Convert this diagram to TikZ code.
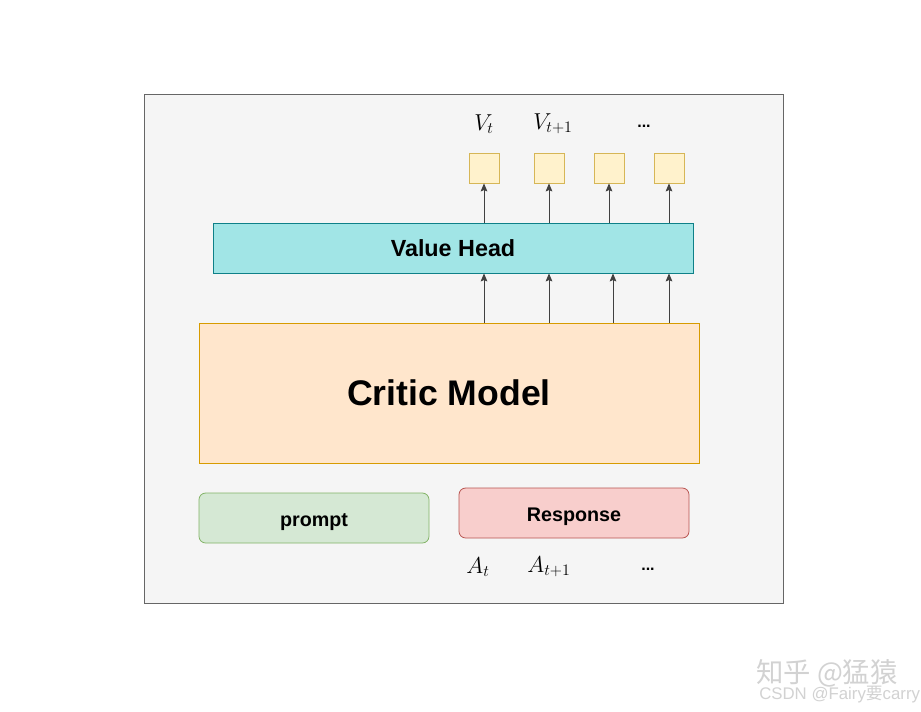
\documentclass[tikz,border=0pt]{standalone}
\usepackage{fontspec}
\setsansfont{Liberation Sans}
\newfontfamily\cjkfont{Noto Sans CJK SC}
\usetikzlibrary{arrows.meta}
\definecolor{bgfill}{HTML}{F5F5F5}
\definecolor{bgdraw}{HTML}{666666}
\definecolor{vhfill}{HTML}{A1E5E6}
\definecolor{vhdraw}{HTML}{0E8088}
\definecolor{cmfill}{HTML}{FFE6CC}
\definecolor{cmdraw}{HTML}{D79B00}
\definecolor{sqfill}{HTML}{FFF2CC}
\definecolor{sqdraw}{HTML}{D6B656}
\definecolor{prfill}{HTML}{D5E8D4}
\definecolor{prdraw}{HTML}{82B366}
\definecolor{rsfill}{HTML}{F8CECC}
\definecolor{rsdraw}{HTML}{B85450}
\definecolor{wmcol}{HTML}{D2D2D2}
\begin{document}
\begin{tikzpicture}[x=0.75pt,y=-0.75pt,
  arr/.style={-{Stealth[length=6pt,width=5pt,inset=1pt]},draw=black!75,line width=0.7pt},
  sq/.style={draw=sqdraw,fill=sqfill,line width=0.6pt,minimum width=22.5pt,minimum height=22.5pt,inner sep=0pt},
  lbl/.style={font=\fontsize{16.5}{19}\selectfont,inner sep=0pt},
  dots/.style={font=\sffamily\bfseries\fontsize{12}{14}\selectfont,inner sep=0pt},
  inbox/.style={rounded corners=5pt,line width=0.6pt,minimum width=172.5pt,minimum height=37.5pt,inner sep=0pt,
    text height=12pt,text depth=0pt,font=\sffamily\bfseries\fontsize{14.8}{17}\selectfont}]
\useasboundingbox (0,0) rectangle (921,711);
\fill[white] (0,0) rectangle (921,711);
\draw[draw=bgdraw,fill=bgfill,line width=0.7pt] (144,94) rectangle (783,603);
% Value Head
\node[draw=vhdraw,fill=vhfill,line width=0.6pt,minimum width=360pt,minimum height=37.5pt,inner sep=0pt,
  font=\sffamily\bfseries\fontsize{17.5}{20}\selectfont] (vh) at (453,248) {Value Head};
% Critic Model
\node[draw=cmdraw,fill=cmfill,line width=0.6pt,minimum width=375pt,minimum height=105pt,inner sep=0pt,
  font=\sffamily\bfseries\fontsize{26.7}{30}\selectfont] (cm) at (449,393) {Critic Model};
% squares
\node[sq] (s1) at (484,168) {};
\node[sq] (s2) at (549,168) {};
\node[sq] (s3) at (609,168) {};
\node[sq] (s4) at (669,168) {};
% arrows from value head to squares
\foreach \i/\x in {1/484,2/549,3/609,4/669}{
  \draw[arr] (\x,223) -- (s\i.south);
}
% arrows from critic to value head
\foreach \x in {484,549,613,669}{
  \draw[arr] (cm.north -| \x,0) -- (vh.south -| \x,0);
}
% V labels
\node[lbl] (v1) at (484,124) {$V_t$};
\node[lbl] (v2) at (553,124) {$V_{t+1}$};
\node[dots] (v3) at (644,126) {...};
% prompt / response
\node[inbox,draw=prdraw,fill=prfill] (pr) at (314,518) {prompt};
\node[inbox,draw=rsdraw,fill=rsfill] (rs) at (574,513) {Response};
% A labels
\node[lbl] (a1) at (478,567) {$A_t$};
\node[lbl] (a2) at (549,567) {$A_{t+1}$};
\node[dots] (a3) at (648,569) {...};
% watermark
\node[text=wmcol,font=\cjkfont\fontsize{20.5}{22}\selectfont,inner sep=0pt,anchor=west] (wm1) at (756,673) {知乎 @猛猿};
\node[text=wmcol,font=\sffamily\fontsize{12.6}{14}\selectfont,inner sep=0pt,anchor=west] (wm2) at (759,695) {CSDN @Fairy{\cjkfont 要}carry};
\end{tikzpicture}
\end{document}
